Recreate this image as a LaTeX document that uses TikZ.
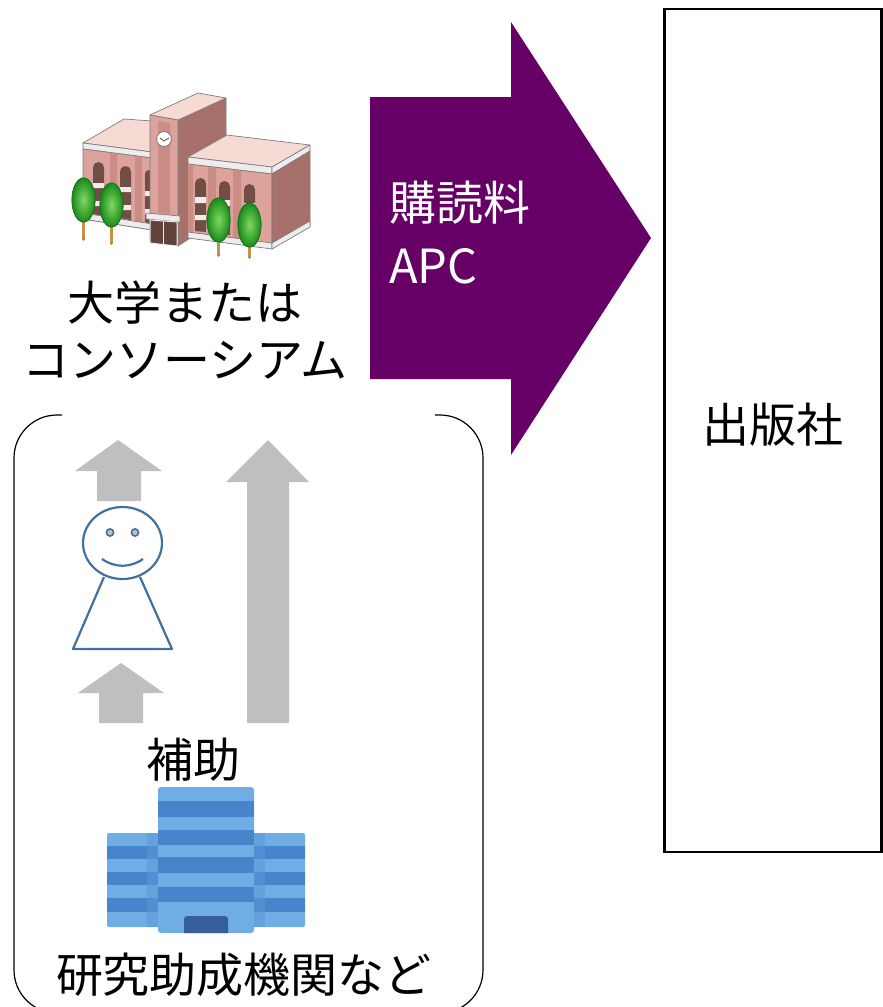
\documentclass[tikz,border=0pt]{standalone}
\usepackage{fontspec}
\newfontfamily\jpfont{Noto Sans CJK JP}
\definecolor{flowpurple}{RGB}{102,0,102}
\definecolor{arrowgray}{RGB}{191,191,191}
\definecolor{figblue}{RGB}{65,113,156}
\definecolor{offlight}{RGB}{112,173,228}
\definecolor{offdark}{RGB}{72,132,204}
\definecolor{offdoor}{RGB}{52,94,158}
\definecolor{offshade}{RGB}{92,152,214}
\definecolor{bldline}{RGB}{125,125,125}
\definecolor{frontpink}{RGB}{222,162,156}
\definecolor{pilpink}{RGB}{204,140,134}
\definecolor{roofpink}{RGB}{246,218,212}
\definecolor{sidepink}{RGB}{168,112,106}
\definecolor{cornice}{RGB}{238,236,238}
\definecolor{wincol}{RGB}{112,78,68}
\definecolor{leafdark}{RGB}{30,120,30}
\definecolor{leaflight}{RGB}{130,215,100}
\definecolor{trunk}{RGB}{200,145,70}
\begin{document}
\begin{tikzpicture}[x=1pt,y=-1pt,
  jptext/.style={font=\jpfont\fontsize{47}{57}\selectfont, inner sep=0pt},
  graybig/.style={fill=arrowgray},
  bld/.style={draw=bldline, line width=0.7pt, line join=round},
  person/.style={draw=figblue, line width=2.2pt, line join=round},
  tree/.style={draw=leafdark, line width=0.8pt, inner color=leaflight, outer color=leafdark!85!green},
  trunkline/.style={draw=trunk!70!black, line width=3.6pt, line cap=round},
  trunkfill/.style={draw=trunk, line width=2.2pt, line cap=round}]
\useasboundingbox (0,0) rectangle (883,1007);
\clip (0,0) rectangle (883,1007);

% ---------- publisher ----------
\node[draw, line width=2.6pt, minimum width=217pt, minimum height=843pt, inner sep=0pt] (pub) at (773,430.5) {};
\node[jptext] (publabel) at (773,425) {出版社};

% ---------- payment arrow ----------
\fill[flowpurple] (370,97) -- (511,97) -- (511,22) -- (651,238) -- (511,455) -- (511,379) -- (370,379) -- cycle;
\node[jptext, text=white, align=left, anchor=north west, font=\jpfont\fontsize{47}{63}\selectfont] (fee) at (389,181) {購読料\\APC};

% ---------- university building ----------
% left wing
\filldraw[bld, fill=roofpink] (83,143) -- (124,119) -- (152,121) -- (152,152) -- cycle;
\filldraw[bld, fill=cornice] (83,143) -- (152,152) -- (152,158) -- (83,149) -- cycle;
\filldraw[bld, fill=frontpink] (83,149) -- (152,158) -- (152,230) -- (83,219) -- cycle;
\fill[pilpink] (110,153) -- (117,154) -- (117,224) -- (110,223) -- cycle;
\fill[pilpink] (135,156) -- (142,157) -- (142,228) -- (135,227) -- cycle;
\fill[wincol] (93,214) [rounded corners=5.5pt] -- (93,162) -- (104,162) [sharp corners] -- (104,216) -- cycle;
\fill[wincol] (120,218) [rounded corners=5.5pt] -- (120,166) -- (131,166) [sharp corners] -- (131,220) -- cycle;
\fill[wincol] (145,222) [rounded corners=4pt] -- (145,170) -- (152,170) [sharp corners] -- (152,224) -- cycle;
\fill[cornice] (93,183) rectangle (104,188) (93,201) rectangle (104,206);
\fill[cornice] (120,187) rectangle (131,192) (120,205) rectangle (131,210);
\fill[cornice] (145,191) rectangle (152,196) (145,209) rectangle (152,214);
\filldraw[bld, fill=cornice] (83,213) -- (152,224) -- (152,230) -- (83,219) -- cycle;
% tower
\filldraw[bld, fill=sidepink] (178,120) -- (226,98) -- (226,215) -- (178,246) -- cycle;
\filldraw[bld, fill=roofpink] (150,115) -- (198,93) -- (226,98) -- (178,120) -- cycle;
\filldraw[bld, fill=frontpink] (150,115) -- (178,120) -- (178,246) -- (150,241) -- cycle;
\fill[pilpink] (158,121) -- (170,123) -- (170,214) -- (158,213) -- cycle;
\filldraw[draw=bldline, line width=0.9pt, fill=white] (164,139) circle[radius=7.5];
\draw[line width=0.8pt, bldline!60!black] (160,138) -- (164,141) -- (169,138);
\filldraw[bld, fill=cornice] (146,213) -- (180,216) -- (180,222) -- (146,219) -- cycle;
\filldraw[draw=cornice, line width=1pt, fill=wincol!85!black] (150,220) -- (177,222) -- (177,246) -- (150,243) -- cycle;
\draw[cornice, line width=0.8pt] (163.5,221) -- (163.5,245);
% right wing
\filldraw[bld, fill=roofpink] (188,157) -- (227,135) -- (310,145) -- (272,167) -- cycle;
\filldraw[bld, fill=cornice] (188,157) -- (272,167) -- (272,174) -- (188,164) -- cycle;
\filldraw[bld, fill=cornice] (272,167) -- (310,145) -- (310,151) -- (272,174) -- cycle;
\filldraw[bld, fill=frontpink] (188,164) -- (272,174) -- (272,248) -- (188,237) -- cycle;
\filldraw[bld, fill=sidepink] (272,174) -- (310,151) -- (310,226) -- (272,248) -- cycle;
\fill[pilpink] (188,164) -- (193,165) -- (193,236) -- (188,236) -- cycle;
\fill[pilpink] (208,167) -- (216,168) -- (216,239) -- (208,238) -- cycle;
\fill[pilpink] (233,170) -- (241,171) -- (241,242) -- (233,241) -- cycle;
\fill[wincol] (195,231) [rounded corners=5.5pt] -- (195,178) -- (206,178) [sharp corners] -- (206,232) -- cycle;
\fill[wincol] (219,234) [rounded corners=5.5pt] -- (219,181) -- (230,181) [sharp corners] -- (230,235) -- cycle;
\fill[wincol] (244,237) [rounded corners=5.5pt] -- (244,184) -- (255,184) [sharp corners] -- (255,238) -- cycle;
\fill[cornice] (195,197) rectangle (206,203) (195,215) rectangle (206,220);
\fill[cornice] (219,200) rectangle (230,206) (219,218) rectangle (230,223);
\fill[cornice] (244,203) rectangle (255,209) (244,221) rectangle (255,226);
\filldraw[bld, fill=cornice] (188,232) -- (272,243) -- (272,249) -- (188,238) -- cycle;
\filldraw[bld, fill=cornice] (272,243) -- (310,221) -- (310,227) -- (272,249) -- cycle;
% trees
\foreach \tx/\ty/\tb in {83.5/200/239, 111.5/205/243, 218.5/220/255, 249.5/225/257}{
  \draw[trunkline] (\tx,\ty+15) -- (\tx,\tb);
  \draw[trunkfill] (\tx,\ty+15) -- (\tx,\tb-0.6);
  \shade[tree] (\tx,\ty) ellipse[x radius=11.5, y radius=22];
  \draw[draw=leafdark, line width=0.8pt] (\tx,\ty) ellipse[x radius=11.5, y radius=22];
}

\node[jptext, align=center] (uni) at (185,330) {大学または\\コンソーシアム};

% ---------- funding bracket ----------
\draw[line width=1.2pt, rounded corners=43pt] (62,415) -- (14,415) -- (14,1013) -- (62,1013);
\draw[line width=1.2pt, rounded corners=43pt] (435,415) -- (483,415) -- (483,1013) -- (435,1013);

% gray arrows
\fill[graybig] (118,440) -- (162,471) -- (141,471) -- (141,501) -- (97,501) -- (97,471) -- (75,471) -- cycle;
\fill[graybig] (121,663) -- (164,693) -- (143,693) -- (143,723) -- (99,723) -- (99,693) -- (78,693) -- cycle;
\fill[graybig] (268,440) -- (309,482) -- (289,482) -- (289,723) -- (247,723) -- (247,482) -- (226,482) -- cycle;

% researcher
\draw[person, fill=white] (104,577) -- (73,649) -- (172,649) -- (140,577);
\draw[person, fill=white] (122.5,543) ellipse[x radius=39.5, y radius=36];
\filldraw[draw=figblue, line width=1.6pt, fill=arrowgray] (110,532.5) circle[radius=3.6] (135,532.5) circle[radius=3.6];
\draw[person] (102,559) .. controls (115,568) and (130,568) .. (143,559);

\node[jptext] (aid) at (193,760) {補助};

% ---------- funding agency building ----------
\fill[offlight, rounded corners=2pt] (107,833) rectangle (305,927);
\foreach \ya/\yb in {846/859, 872/885, 898/912}{
  \fill[offdark] (107,\ya) rectangle (305,\yb);
}
\fill[offshade, opacity=0.55] (147,833) rectangle (158,927);
\fill[offshade, opacity=0.55] (254,833) rectangle (265,927);
\fill[offlight, rounded corners=3pt] (158,787) rectangle (254,933);
\foreach \ya/\yb in {801/817, 830/845, 857/873, 887/902}{
  \fill[offdark] (158,\ya) rectangle (254,\yb);
}
\fill[offdoor] (184,933) [rounded corners=3pt] -- (184,916) -- (228,916) [sharp corners] -- (228,933) -- cycle;

\node[jptext] (agency) at (244,975) {研究助成機関など};
\end{tikzpicture}
\end{document}
